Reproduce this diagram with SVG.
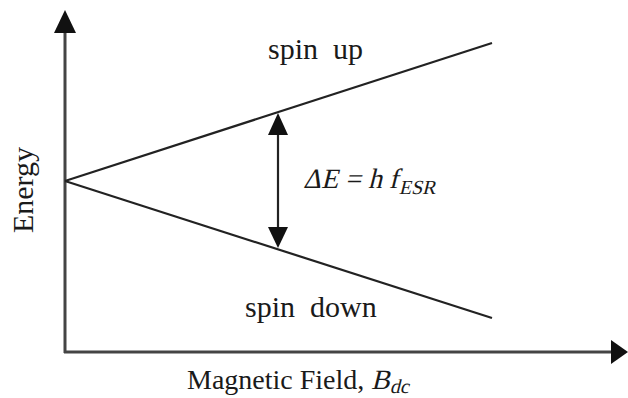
<svg xmlns="http://www.w3.org/2000/svg" width="628" height="398" viewBox="0 0 628 398">
<style>
.t{font-family:"Liberation Serif","Times New Roman",serif;fill:#1a1a1a;white-space:pre}
.ax{stroke:#444;stroke-width:3;fill:none}
.ln{stroke:#222;stroke-width:2.2;fill:none}
.hd{fill:#111;stroke:none}
</style>
<rect width="628" height="398" fill="#fff"/>
<g id="connectors">
<line class="ax" x1="65" y1="30" x2="65" y2="353"/>
<line class="ax" x1="64" y1="352" x2="614" y2="352"/>
<polygon class="hd" points="65,10 54,33 76,33"/>
<polygon class="hd" points="628,352 611,340 611,364"/>
<line class="ln" x1="65" y1="181" x2="492" y2="43"/>
<line class="ln" x1="65" y1="181" x2="492" y2="318"/>
<line class="ln" x1="278" y1="130" x2="278" y2="232"/>
<polygon class="hd" points="278,113 268,135 288,135"/>
<polygon class="hd" points="278,248 268,227 288,227"/>
</g>
<g id="label-spin-up"><text class="t" x="268" y="59" font-size="30">spin  up</text></g>
<g id="label-spin-down"><text class="t" x="245" y="317" font-size="30">spin  down</text></g>
<g id="label-delta-e" transform="translate(303,188) skewX(-14)"><text class="t" x="0" y="0" font-size="28">ΔE = h f<tspan font-size="20" dy="6" dx="2">ESR</tspan></text></g>
<g id="label-x-axis"><text class="t" x="187" y="389" font-size="28">Magnetic Field,</text><g transform="translate(371,389) skewX(-14)"><text class="t" x="0" y="0" font-size="28">B<tspan font-size="20" dy="4" dx="1">dc</tspan></text></g></g>
<g id="label-y-axis"><text class="t" font-size="30" text-anchor="middle" transform="translate(33,190) rotate(-90)">Energy</text></g>
</svg>
